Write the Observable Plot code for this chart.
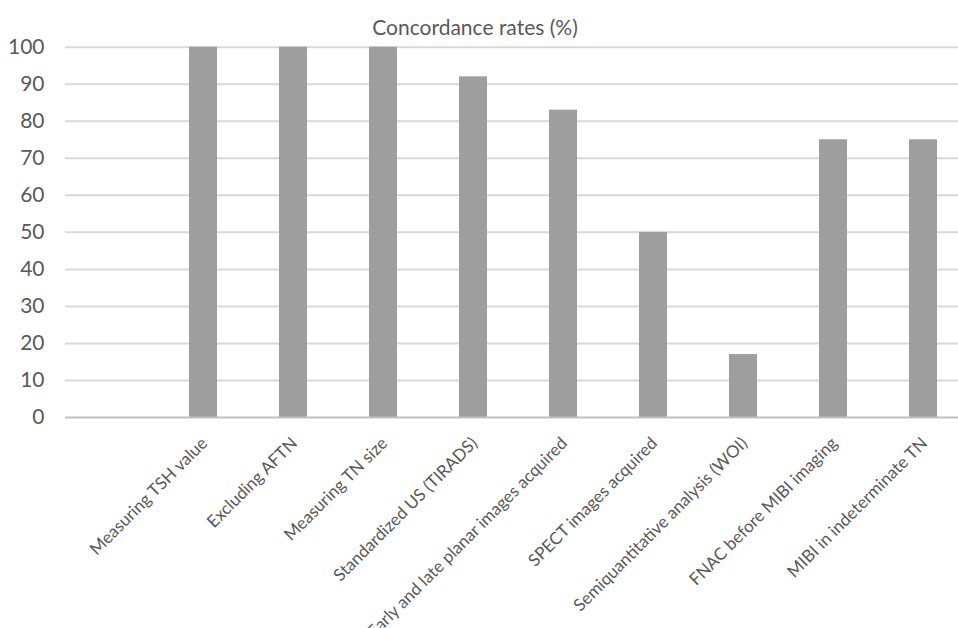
<!DOCTYPE html>
<html>
<head>
<meta charset="utf-8">
<script src="https://cdn.jsdelivr.net/npm/d3@7"></script>
<script src="https://cdn.jsdelivr.net/npm/@observablehq/plot@0.6"></script>
<style>
  html, body { margin: 0; padding: 0; background: #fff; overflow: hidden; }
  #chart svg { display: block; overflow: hidden; }
</style>
</head>
<body>
<div id="chart"></div>
<script>
const title = "Concordance rates (%)";
const categories = [
  "Measuring TSH value",
  "Excluding AFTN",
  "Measuring TN size",
  "Standardized US (TIRADS)",
  "Early and late planar images acquired",
  "SPECT images acquired",
  "Semiquantitative analysis (WOI)",
  "FNAC before MIBI imaging",
  "MIBI in indeterminate TN"
];
const rates = [100, 100, 100, 92, 83, 50, 17, 75, 75];
const yTicks = [0, 10, 20, 30, 40, 50, 60, 70, 80, 90, 100];

const data = categories.map((c, i) => ({category: c, rate: rates[i]}));
const textColor = "#595959";
const font = "Lato, 'Open Sans', sans-serif";

const chart = Plot.plot({
  width: 958,
  height: 628,
  marginLeft: 65,
  marginRight: 0,
  marginTop: 46.7,
  marginBottom: 211,
  style: {fontFamily: font, color: textColor, background: "#fff"},
  x: {domain: categories, range: [155.8, 969.4], paddingInner: 0.69, paddingOuter: 0.345, axis: null},
  y: {domain: [0, 100], axis: null},
  marks: [
    Plot.ruleY(yTicks.filter(t => t > 0), {stroke: "#d9d9d9", strokeWidth: 2}),
    Plot.barY(data, {x: "category", y: "rate", fill: "#9e9e9e"}),
    Plot.ruleY([0], {stroke: "#bfbfbf", strokeWidth: 2}),
    Plot.axisY({ticks: yTicks, tickSize: 0, tickPadding: 21, fontSize: 21, label: null, fill: textColor}),
    Plot.text(categories, {
      x: d => d, frameAnchor: "bottom", dy: 23, dx: 1,
      rotate: -45, textAnchor: "end", lineAnchor: "middle",
      fontSize: 17, fill: textColor
    }),
    Plot.text([title], {
      frameAnchor: "top-left", dx: 409.5, dy: -18.7,
      textAnchor: "middle", lineAnchor: "middle",
      fontSize: 21, fill: textColor
    })
  ]
});
document.getElementById("chart").appendChild(chart);
</script>
</body>
</html>
